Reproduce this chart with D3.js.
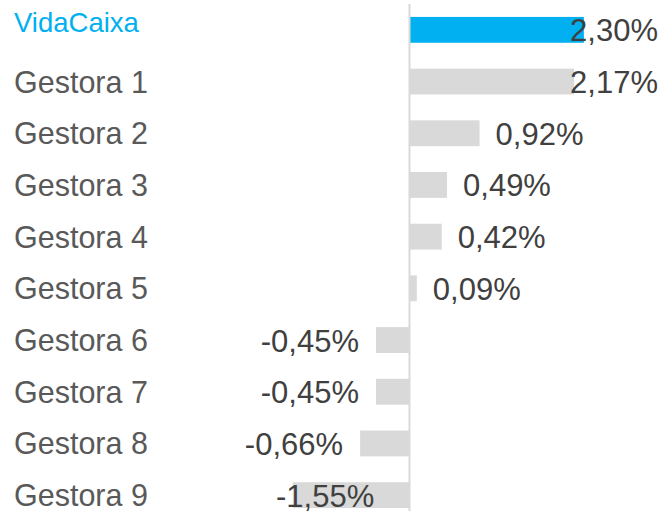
<!DOCTYPE html>
<html>
<head>
<meta charset="utf-8">
<script src="https://cdn.jsdelivr.net/npm/d3@7"></script>
<style>
  html, body { margin: 0; padding: 0; background: #fff; }
  svg { display: block; font-family: Arial, "Liberation Sans", sans-serif; }
</style>
</head>
<body>
<div id="chart"></div>
<script>
(function() {
  'use strict';

  var categories = ['VidaCaixa', 'Gestora 1', 'Gestora 2', 'Gestora 3', 'Gestora 4',
                    'Gestora 5', 'Gestora 6', 'Gestora 7', 'Gestora 8', 'Gestora 9'];
  var values = [2.30, 2.17, 0.92, 0.49, 0.42, 0.09, -0.45, -0.45, -0.66, -1.55];
  var labels = ['2,30%', '2,17%', '0,92%', '0,49%', '0,42%', '0,09%',
                '-0,45%', '-0,45%', '-0,66%', '-1,55%'];

  var width = 661, height = 511;
  var plotLeft = 276, plotRight = 658;

  var svg = d3.select('#chart')
    .append('svg')
      .attr('width', width)
      .attr('height', height);

  var x = d3.scaleLinear()
    .domain([-2, 2.5])
    .range([410 - 2 * 75.6, 410 + 2.5 * 75.6]);

  var y = d3.scaleBand()
    .domain(categories)
    .range([4, 521])
    .paddingInner(0.5)
    .paddingOuter(0.25);

  var data = categories.map(function(c, i) {
    return { name: c, value: values[i], label: labels[i] };
  });

  // bars
  svg.selectAll('rect.bar')
    .data(data)
    .enter().append('rect')
      .attr('class', 'bar')
      .attr('x', function(d) { return x(Math.min(0, d.value)); })
      .attr('y', function(d) { return y(d.name); })
      .attr('width', function(d) { return Math.abs(x(d.value) - x(0)); })
      .attr('height', y.bandwidth())
      .attr('fill', function(d, i) { return i === 0 ? '#00b0f0' : '#d9d9d9'; });

  // zero line
  svg.append('line')
    .attr('x1', x(0) - 0.5).attr('x2', x(0) - 0.5)
    .attr('y1', 4).attr('y2', height)
    .attr('stroke', '#d9d9d9')
    .attr('stroke-width', 2);

  // category names
  svg.selectAll('text.cat')
    .data(data)
    .enter().append('text')
      .attr('class', 'cat')
      .attr('x', 14)
      .attr('y', function(d, i) {
        var c = y(d.name) + y.bandwidth() / 2;
        return i === 0 ? c + 2 : c + 11;
      })
      .style('font-size', function(d, i) { return i === 0 ? '27.5px' : '30.5px'; })
      .attr('fill', function(d, i) { return i === 0 ? '#00b0f0' : '#595959'; })
      .text(function(d) { return d.name; });

  // value labels
  var vl = svg.selectAll('text.val')
    .data(data)
    .enter().append('text')
      .attr('class', 'val')
      .attr('y', function(d) { return y(d.name) + y.bandwidth() / 2 + 11.5; })
      .style('font-size', '31px')
      .attr('fill', '#404040')
      .text(function(d) { return d.label; });

  // place labels outside bar ends; if they would run into the names, pull them back in
  vl.each(function(d) {
    var t = d3.select(this);
    var w = this.getComputedTextLength();
    if (d.value >= 0) {
      t.attr('x', Math.min(x(d.value) + 16, plotRight - w));
    } else {
      var xs = x(d.value) - 17 - w;
      if (xs < 230) xs = plotLeft;
      t.attr('x', xs);
    }
  });
})();
</script>
</body>
</html>
